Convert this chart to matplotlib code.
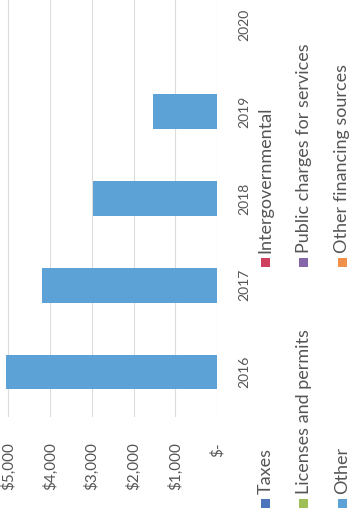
import matplotlib
matplotlib.use("Agg")
from matplotlib import pyplot as plt
from matplotlib.patches import Rectangle

plt.rcParams['font.family'] = ['Lato', 'DejaVu Sans']

# revenue by year (only "Other" has amounts)
years = ['2016', '2017', '2018', '2019', '2020']
other_vals = [5050, 4200, 2960, 1540, 0]

value_ticks = [0, 1000, 2000, 3000, 4000, 5000]
value_labels = ['$-', '$1,000', '$2,000', '$3,000', '$4,000', '$5,000']

series = ['Taxes', 'Intergovernmental', 'Licenses and permits',
          'Public charges for services', 'Other', 'Other financing sources']
colors = ['#4a74bb', '#cf3f5e', '#9dbf55', '#8566a8', '#5ca2d6', '#f0904a']

W, H = 355, 516
TXT = '#555555'


def px(x, y):
    # pixel position (from top-left) -> figure fraction
    return x / W, 1 - y / H


fig = plt.figure(figsize=(W / 100, H / 100), dpi=100)
fig.patch.set_facecolor('white')

# chart drawn sideways: years run bottom->top, values grow to the left
ax = fig.add_axes([0, (H - 417) / H, 217 / W, 417 / H])
ypos = list(range(len(years)))
ax.barh(ypos, other_vals, height=0.40, color=colors[4], zorder=3)

ax.set_xlim(5200, 0)
ax.set_ylim(-0.52, 4.29)
ax.set_xticks(value_ticks)
ax.set_xticklabels(value_labels, rotation=90, ha='center', va='top',
                   fontsize=11, color=TXT)
ax.tick_params(axis='x', length=0, pad=18)
ax.grid(axis='x', color='#dcdcdc', lw=0.8, zorder=0)

ax.yaxis.tick_right()
ax.set_yticks(ypos)
ax.set_yticklabels(years, rotation=90, va='center', fontsize=10, color=TXT)
ax.tick_params(axis='y', length=0, pad=15)

for s in ax.spines.values():
    s.set_visible(False)

# legend, two columns of three rows, rotated like the chart
rows_x = [265, 303, 342]
cols_y = [503, 262]
sw = 9
for i, (name, c) in enumerate(zip(series, colors)):
    col = i % 2
    row = i // 2
    cx, cy = rows_x[row], cols_y[col]
    x0, y0 = px(cx - sw / 2, cy + sw / 2)
    fig.patches.append(Rectangle((x0, y0), sw / W, sw / H, transform=fig.transFigure,
                                 facecolor=c, edgecolor='none', figure=fig))
    tx, ty = px(cx + 0.5, cy - 9)
    fig.text(tx, ty, name, rotation=90, ha='center', va='bottom',
             fontsize=13, color=TXT)

fig.savefig('out.png', dpi=100)
